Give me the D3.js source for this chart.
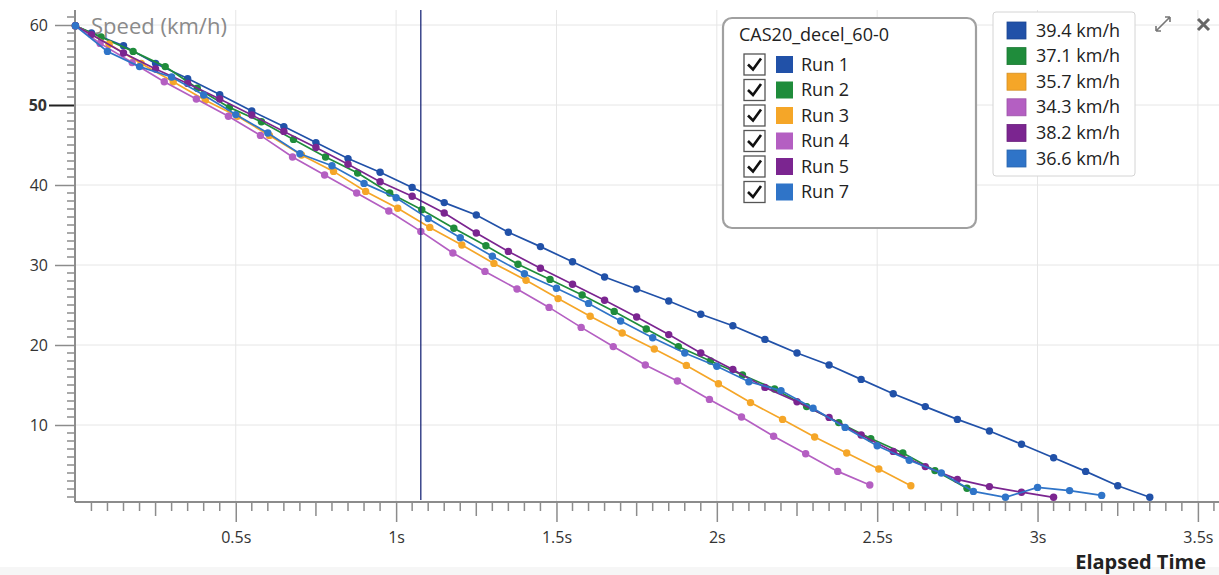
<!DOCTYPE html>
<html><head><meta charset="utf-8">
<script src="https://cdn.jsdelivr.net/npm/d3@7/dist/d3.min.js"></script>
<style>
html,body{margin:0;padding:0;background:#fff;}
svg{display:block;font-family:"Segoe UI","Open Sans","Noto Sans",sans-serif;}
</style></head>
<body><svg id="c" width="1219" height="575"></svg>
<script>
// ---- data ----
const runNames = ["Run 1","Run 2","Run 3","Run 4","Run 5","Run 7"];
const runColors = ["#2151a8","#1f8c3b","#f5a628","#b45fc2","#7b2590","#2f74c8"];
const cursorValues = ["39.4 km/h","37.1 km/h","35.7 km/h","34.3 km/h","38.2 km/h","36.6 km/h"];
const cursorTime = 1.077;

const run1T = [0,0.05,0.15,0.25,0.35,0.45,0.55,0.65,0.75,0.85,0.95,1.05,1.15,1.25,1.35,1.45,1.55,1.65,1.75,1.85,1.95,2.05,2.15,2.25,2.35,2.45,2.55,2.65,2.75,2.85,2.95,3.05,3.15,3.25,3.35];
const run1V = [59.9,59.0,57.4,55.2,53.3,51.3,49.25,47.3,45.3,43.3,41.6,39.7,37.8,36.25,34.1,32.3,30.4,28.5,27.0,25.5,23.85,22.4,20.7,19.0,17.5,15.7,13.9,12.3,10.7,9.25,7.6,5.9,4.2,2.4,0.96];

const run2T = [0,0.08,0.18,0.28,0.38,0.48,0.58,0.68,0.78,0.88,0.98,1.08,1.18,1.28,1.38,1.48,1.58,1.68,1.78,1.88,1.98,2.08,2.18,2.28,2.38,2.48,2.58,2.68,2.78];
const run2V = [59.9,58.5,56.7,54.8,52.1,49.7,47.9,45.7,43.5,41.5,39.0,36.9,34.6,32.4,30.1,28.2,26.25,24.2,22.0,19.8,18.0,16.25,14.5,12.3,10.3,8.3,6.5,4.3,2.1];

const run3T = [0,0.105,0.205,0.305,0.405,0.505,0.605,0.705,0.805,0.905,1.005,1.105,1.205,1.305,1.405,1.505,1.605,1.705,1.805,1.905,2.005,2.105,2.205,2.305,2.405,2.505,2.605];
const run3V = [59.9,57.6,55.2,52.9,50.6,48.6,46.2,43.75,41.7,39.2,37.1,34.7,32.5,30.2,28.1,25.8,23.6,21.5,19.5,17.45,15.15,12.8,10.7,8.5,6.5,4.5,2.4];

const run4T = [0,0.077,0.177,0.277,0.377,0.477,0.577,0.677,0.777,0.877,0.977,1.077,1.177,1.277,1.377,1.477,1.577,1.677,1.777,1.877,1.977,2.077,2.177,2.277,2.377,2.477];
const run4V = [59.9,57.7,55.3,52.9,50.75,48.6,46.2,43.5,41.25,39.0,36.75,34.2,31.5,29.2,27.0,24.7,22.2,19.8,17.5,15.5,13.2,11.0,8.6,6.4,4.2,2.5];

const run5T = [0,0.05,0.15,0.25,0.35,0.45,0.55,0.65,0.75,0.85,0.95,1.05,1.15,1.25,1.35,1.45,1.55,1.65,1.75,1.85,1.95,2.05,2.15,2.25,2.35,2.45,2.55,2.65,2.75,2.85,2.95,3.05];
const run5V = [59.9,58.8,56.5,54.5,52.7,50.75,48.75,46.7,44.7,42.6,40.4,38.6,36.5,34.0,31.7,29.6,27.6,25.6,23.5,21.3,19.0,16.95,14.7,12.9,10.95,8.75,6.7,4.8,3.2,2.3,1.6,0.96];

const run7T = [0,0.1,0.2,0.3,0.4,0.5,0.6,0.7,0.8,0.9,1.0,1.1,1.2,1.3,1.4,1.5,1.6,1.7,1.8,1.9,2.0,2.1,2.2,2.3,2.4,2.5,2.6,2.7,2.8,2.9,3.0,3.1,3.2];
const run7V = [59.9,56.7,54.8,53.5,51.25,48.8,46.5,43.9,42.4,40.2,38.4,35.8,33.4,31.1,28.9,27.1,25.2,23.0,20.9,19.0,17.35,15.4,14.3,12.1,9.7,7.4,5.6,4.0,1.7,0.96,2.2,1.8,1.2];

const xTickLabels = [0.5,1,1.5,2,2.5,3,3.5];
const yTickLabels = [10,20,30,40,50,60];

const seriesT = [run1T,run2T,run3T,run4T,run5T,run7T];
const seriesV = [run1V,run2V,run3V,run4V,run5V,run7V];

// ---- chart ----
const svg = d3.select("#c");
const x = d3.scaleLinear().domain([0,3.5]).range([75.4,1197.9]);
const y = d3.scaleLinear().domain([0,60]).range([505,25]);
const axisY = 502, axisX = 75;
const FONT = "'Segoe UI','Open Sans',sans-serif";

// bottom band
svg.append("rect").attr("x",0).attr("y",567).attr("width",1219).attr("height",8).attr("fill","#f6f6f6");

// grid
const grid = svg.append("g").attr("stroke","#e6e6e6").attr("stroke-width",1);
grid.selectAll("line.h").data(yTickLabels).join("line")
  .attr("x1",axisX).attr("x2",1219).attr("y1",d=>y(d)).attr("y2",d=>y(d));
grid.selectAll("line.v").data(xTickLabels).join("line")
  .attr("y1",10).attr("y2",axisY).attr("x1",d=>x(d)).attr("x2",d=>x(d));

// x axis
const xMinor = d3.range(0.05,3.56,0.05).map(d=>+d.toFixed(2)).filter(d=>Math.abs(d*2-Math.round(d*2))>1e-6);
const xAxis = svg.append("g").attr("transform",`translate(0,${axisY})`);
xAxis.selectAll("line.minor").data(xMinor).join("line")
  .attr("x1",d=>x(d)).attr("x2",d=>x(d)).attr("y1",0)
  .attr("y2",d=>Math.abs(d*4-Math.round(d*4))<1e-6 ? 14 : 9)
  .attr("stroke","#8c8c8c").attr("stroke-width",1.5);
xAxis.call(d3.axisBottom(x).tickValues(xTickLabels).tickFormat(d=>d+"s").tickSize(20).tickPadding(10));
xAxis.select(".domain").remove();
xAxis.selectAll(".tick line").attr("stroke","#8c8c8c").attr("stroke-width",1.5);
xAxis.selectAll(".tick text").attr("fill","#333").style("font-size","16px").style("font-family",FONT);
svg.append("line").attr("x1",axisX).attr("x2",1219).attr("y1",axisY).attr("y2",axisY).attr("stroke","#8c8c8c").attr("stroke-width",2);

// y axis
const yMinor = d3.range(1,62,1).filter(d=>d%10!==0);
const yAxis = svg.append("g").attr("transform",`translate(${axisX},0)`);
yAxis.selectAll("line.minor").data(yMinor).join("line")
  .attr("x1",-8).attr("x2",0).attr("y1",d=>y(d)).attr("y2",d=>y(d))
  .attr("stroke","#8c8c8c").attr("stroke-width",1.5);
yAxis.call(d3.axisLeft(y).tickValues(yTickLabels).tickSize(20).tickPadding(7));
yAxis.select(".domain").remove();
yAxis.selectAll(".tick line").attr("stroke","#8c8c8c").attr("stroke-width",1.5);
yAxis.selectAll(".tick text").attr("fill","#333").style("font-size","16px").style("font-family",FONT);
yAxis.selectAll(".tick").filter(d=>d===50).select("line").attr("stroke","#222").attr("stroke-width",2).attr("x2",-26);
yAxis.selectAll(".tick").filter(d=>d===50).select("text").attr("font-weight","bold").attr("x",-28);
svg.append("line").attr("x1",axisX).attr("x2",axisX).attr("y1",10).attr("y2",axisY).attr("stroke","#8c8c8c").attr("stroke-width",2);

// axis titles
svg.append("text").attr("x",91).attr("y",34).text("Speed (km/h)")
  .attr("fill","#8a8a8a").style("font-size","22px");
svg.append("text").attr("x",1206).attr("y",569).attr("text-anchor","end").text("Elapsed Time")
  .attr("fill","#222").attr("font-weight","bold").style("font-size","20px");

// series
const line = d3.line().x(d=>x(d[0])).y(d=>y(d[1]));
runNames.forEach((name,i)=>{
  const pts = seriesT[i].map((t,j)=>[t,seriesV[i][j]]);
  const g = svg.append("g");
  g.append("path").datum(pts).attr("d",line).attr("fill","none")
    .attr("stroke",runColors[i]).attr("stroke-width",1.7);
  g.selectAll("circle").data(pts).join("circle")
    .attr("cx",d=>x(d[0])).attr("cy",d=>y(d[1])).attr("r",3.7)
    .attr("fill",runColors[i]);
});

// cursor
svg.append("line").attr("x1",x(cursorTime)).attr("x2",x(cursorTime)).attr("y1",10).attr("y2",500)
  .attr("stroke","#1d2a7a").attr("stroke-width",1.3);

// legend 1
const lg = svg.append("g");
lg.append("rect").attr("x",723).attr("y",18).attr("width",253).attr("height",210).attr("rx",9)
  .attr("fill","#fff").attr("stroke","#a0a0a0").attr("stroke-width",2.2);
lg.append("text").attr("x",739).attr("y",41).text("CAS20_decel_60-0").attr("fill","#222").style("font-size","18px");
runNames.forEach((name,i)=>{
  const cy = 64.5 + i*25.5;
  lg.append("rect").attr("x",744).attr("y",cy-10.5).attr("width",21).attr("height",21)
    .attr("fill","#fff").attr("stroke","#555").attr("stroke-width",1.3);
  lg.append("path").attr("d",`M${748},${cy} L${753},${cy+5} L${761},${cy-6}`)
    .attr("fill","none").attr("stroke","#111").attr("stroke-width",2.6);
  lg.append("rect").attr("x",776).attr("y",cy-8.5).attr("width",17).attr("height",17).attr("fill",runColors[i]);
  lg.append("text").attr("x",801).attr("y",cy+6).text(name).attr("fill","#222").style("font-size","18px");
});

// legend 2
const lg2 = svg.append("g");
lg2.append("rect").attr("x",993).attr("y",12).attr("width",142).attr("height",164).attr("rx",3)
  .attr("fill","#fff").attr("stroke","#d4d4d4").attr("stroke-width",1);
cursorValues.forEach((v,i)=>{
  const cy = 30.5 + i*25.6;
  lg2.append("rect").attr("x",1007).attr("y",cy-8.5).attr("width",19).attr("height",17).attr("fill",runColors[i])
    .attr("stroke",d3.color(runColors[i]).darker(0.4)).attr("stroke-width",0.8);
  lg2.append("text").attr("x",1036).attr("y",cy+6).text(v).attr("fill","#222").style("font-size","18px");
});

// icons
const ic = svg.append("g").attr("stroke","#777").attr("fill","none").attr("stroke-width",1.6);
ic.append("path").attr("d","M1156,31 L1170,17 M1156,31 L1156,26 M1156,31 L1161,31 M1170,17 L1165,17 M1170,17 L1170,22");
const ic2 = svg.append("g").attr("stroke","#666").attr("stroke-width",3);
ic2.append("path").attr("d","M1198,19 L1209,30 M1209,19 L1198,30");
</script></body></html>
